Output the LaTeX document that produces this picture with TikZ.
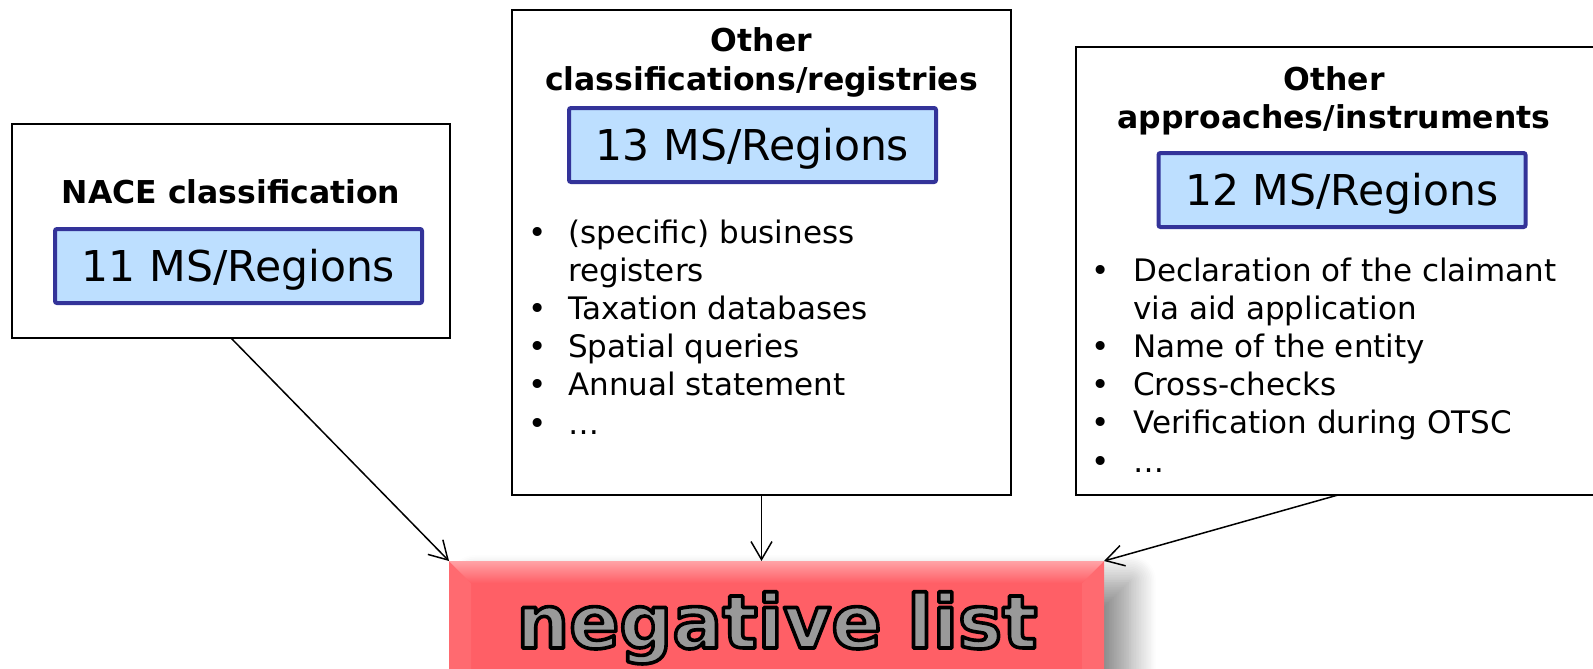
\documentclass[tikz,border=0pt]{standalone}
\usepackage{fontspec}
\setmainfont{DejaVu Sans}
\usetikzlibrary{arrows.meta,shadows.blur,calc}

\definecolor{msfill}{HTML}{BDDFFF}
\definecolor{msline}{HTML}{333399}
\definecolor{negred}{HTML}{FF5F66}
\definecolor{negtop}{HTML}{FFA3A7}
\definecolor{negside}{HTML}{FF6A70}
\definecolor{neggray}{HTML}{999999}

% filled glyphs with a black stroked outline (PDF text render mode 2)
\newcommand\outlined[1]{%
  \special{pdf:literal direct 0 G 3.6 w 1 j 2 Tr}#1\special{pdf:literal direct 0 Tr}}

\tikzset{
  frame/.style={draw=black, line width=1.5pt, fill=white, inner sep=0pt,
    outer sep=0pt, anchor=north west},
  msbox/.style={draw=msline, line width=4pt, fill=msfill, rounded corners=2pt,
    inner sep=0pt, outer sep=0pt, minimum width=367pt, minimum height=74pt,
    text height=31pt, text depth=0pt,
    font=\fontsize{42.5}{50}\selectfont},
  heading/.style={font=\fontsize{31.5}{38}\selectfont\bfseries, anchor=base,
    inner sep=0pt},
  items/.style={anchor=base west, inner sep=0pt,
    font=\fontsize{31}{38.2}\selectfont},
  link/.style={line width=1.5pt,
    -{Straight Barb[length=18pt,width=21pt,line width=1.5pt]}}
}

\newcommand\bl{\textbullet}

\begin{document}
\begin{tikzpicture}[x=1pt,y=-1pt]
\useasboundingbox (0,0) rectangle (1593,669);

% three source boxes
\node[frame, minimum width=438pt, minimum height=214pt] (nace) at (12,124) {};
\node[frame, minimum width=499pt, minimum height=485pt] (mid) at (512,10) {};
\node[frame, minimum width=560pt, minimum height=448pt] (app) at (1076,47) {};

% headings
\node[heading] (naceT) at (231,203) {NACE classification};
\node[heading] (midT1) at (761.5,52) {Other};
\node[heading] (midT2) at (761.5,90) {classifications/registries};
\node[heading] (appT1) at (1334,90) {Other};
\node[heading] (appT2) at (1334,128) {approaches/instruments};

% member-state counts
\node[msbox] (ms1) at (238.5,266) {11 MS/Regions};
\node[msbox] (ms2) at (752.5,145) {13 MS/Regions};
\node[msbox] (ms3) at (1342,190) {12 MS/Regions};

% bullet lists
\node[items] (midL) at (528,243) {%
  \begin{tabular}[t]{@{}p{40pt}@{}l@{}}
  \bl & (specific) business\\
      & registers\\
  \bl & Taxation databases\\
  \bl & Spatial queries\\
  \bl & Annual statement\\
  \bl & …
  \end{tabular}};
\node[items] (appL) at (1091,281) {%
  \begin{tabular}[t]{@{}p{42pt}@{}l@{}}
  \bl & Declaration of the claimant\\
      & via aid application\\
  \bl & Name of the entity\\
  \bl & Cross-checks\\
  \bl & Verification during OTSC\\
  \bl & …
  \end{tabular}};

% target box with bevel and soft shadow
\node[fill=negred, inner sep=0pt, outer sep=0pt, anchor=north west,
  minimum width=655pt, minimum height=130pt,
  blur shadow={shadow xshift=26pt, shadow yshift=-20pt,
    shadow blur radius=26pt, shadow blur steps=16, shadow opacity=45}]
  (neg) at (449,561) {};
\fill[negside] (neg.north west) -- ++(22,22) -- ++(0,130) -- ++(-22,0) -- cycle;
\fill[negside] (neg.north east) -- ++(-22,22) -- ++(0,130) -- ++(22,0) -- cycle;
\shade[top color=negtop, bottom color=negred]
  (neg.north west) -- (neg.north east) -- ++(-22,22) -- ($(neg.north west)+(22,22)$) -- cycle;

\node[anchor=base, inner sep=0pt, font=\fontsize{74}{80}\selectfont\bfseries,
  text=neggray] (negT) at (777,648) {\outlined{negative list}};

% connectors
\draw[link] (nace.south) -- (neg.north west);
\draw[link] (mid.south) -- (mid.south |- neg.north);
\draw[link] ($(app.south west)+(262,0)$) -- (neg.north east);
\end{tikzpicture}
\end{document}
